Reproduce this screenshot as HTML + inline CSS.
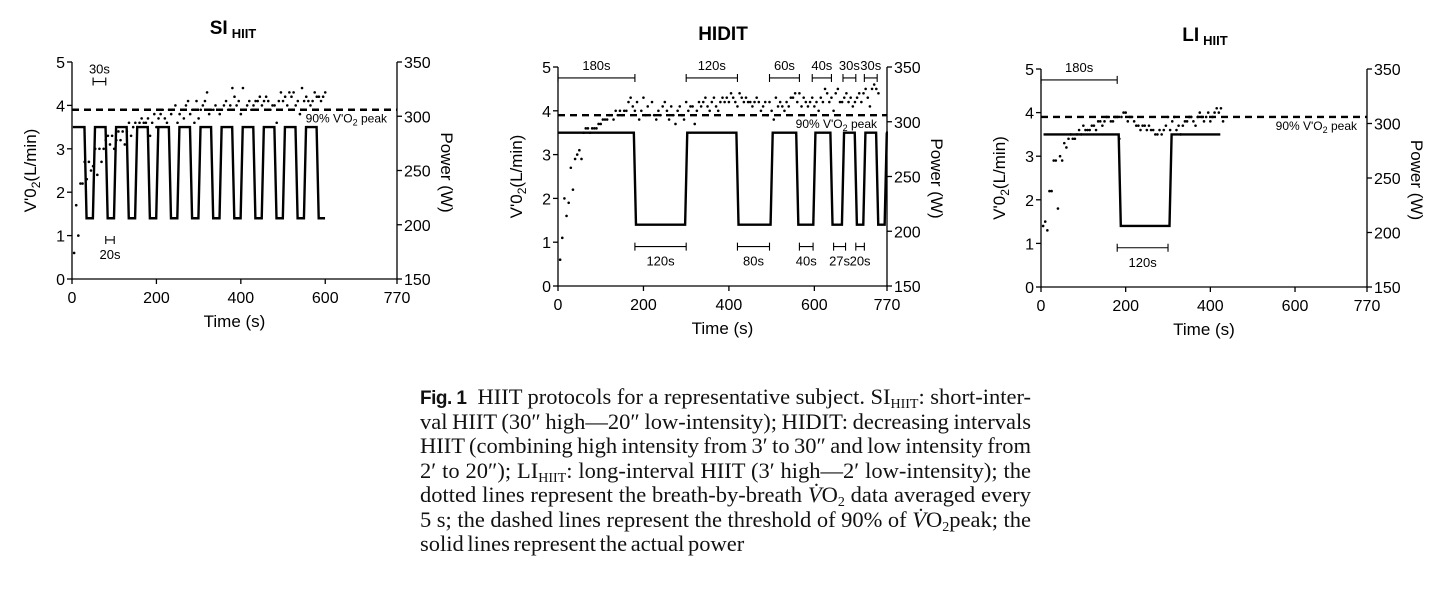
<!DOCTYPE html>
<html><head><meta charset="utf-8"><style>
body{margin:0;background:#fff;width:1456px;height:590px;overflow:hidden}
svg{display:block;font-family:"Liberation Sans",sans-serif}
#cap{position:absolute;left:420px;top:385px;width:611px;font-family:"Liberation Serif",serif;font-size:22.5px;line-height:24.5px;color:#111;word-spacing:-2px}
#cap div{text-align:justify;text-align-last:justify;white-space:nowrap;height:24.5px}
#cap div.last{text-align-last:left}
#cap b{font-family:"Liberation Sans",sans-serif;font-size:19px;letter-spacing:-0.5px}
#cap sub{font-size:14px;line-height:0;vertical-align:-4px}
</style></head><body>
<svg id="fig" width="1456" height="590"></svg>
<div id="cap">
<div><b>Fig. 1</b>&nbsp; HIIT protocols for a representative subject. SI<sub>HIIT</sub>: short-inter-</div>
<div>val HIIT (30″ high—20″ low-intensity); HIDIT: decreasing intervals</div>
<div>HIIT (combining high intensity from 3′ to 30″ and low intensity from</div>
<div>2′ to 20″); LI<sub>HIIT</sub>: long-interval HIIT (3′ high—2′ low-intensity); the</div>
<div>dotted lines represent the breath-by-breath <i>V̇</i>O<sub>2</sub> data averaged every</div>
<div>5 s; the dashed lines represent the threshold of 90% of <i>V̇</i>O<sub>2</sub>peak; the</div>
<div class="last">solid lines represent the actual power</div>
</div>
<script>
const xTicks=[0,200,400,600,770];
const yTicks=[0,1,2,3,4,5];
const pTicks=[150,200,250,300,350];
const threshold=3.9;
const highW=290, lowW=206;
// interval durations: alternating high, low
const siIntervals=[30,20,30,20,30,20,30,20,30,20,30,20,30,20,30,20,30,20,30,20,30,20,30,20];
const hiditIntervals=[180,120,120,80,60,40,40,27,30,20,30,20,3];
const liIntervals=[180,120,120];
// VO2 every 5 s
const siVO2=[0.6,1.7,1.0,2.2,2.2,2.7,2.3,2.7,2.5,2.6,3.0,2.4,3.0,2.7,3.0,3.2,3.3,3.1,3.3,3.0,3.2,3.4,3.2,3.4,3.1,3.4,3.6,3.3,3.5,3.6,3.5,3.6,3.7,3.6,3.6,3.7,3.3,3.6,3.8,3.5,3.7,3.8,3.9,3.7,3.6,3.9,3.8,3.9,4.0,3.6,3.8,3.9,3.7,4.0,4.1,3.8,3.9,3.6,4.1,3.7,3.9,4.0,4.1,4.3,3.8,3.9,3.9,4.0,3.9,3.8,3.9,4.0,4.1,3.9,4.0,4.4,4.2,4.0,4.1,3.8,4.4,3.9,4.0,4.1,3.9,4.0,4.1,4.1,4.2,4.0,4.1,4.2,4.1,3.9,4.0,4.0,3.6,4.1,4.3,4.1,4.2,4.0,4.3,4.2,4.3,4.0,4.1,3.8,4.4,4.1,4.2,4.1,4.0,4.1,4.3,4.2,4.2,4.1,4.2,4.3];
const hiditVO2=[0.6,1.1,2.0,1.6,1.9,2.7,2.2,2.9,3.0,3.1,2.9,3.5,3.6,3.6,3.5,3.6,3.6,3.6,3.7,3.7,3.8,3.8,3.8,3.9,3.9,3.8,4.0,3.9,4.0,3.9,4.0,4.0,4.2,4.3,4.1,4.0,4.2,3.8,4.0,4.3,3.9,4.1,3.9,4.2,3.9,3.8,4.0,3.9,4.1,4.2,4.0,3.8,4.1,3.9,3.7,4.0,4.1,3.9,3.8,4.2,4.0,4.1,4.1,3.7,4.0,4.2,4.1,4.2,4.3,4.1,4.0,4.2,4.3,4.1,4.0,4.2,4.3,4.2,4.3,4.2,4.4,4.3,4.2,4.1,4.4,4.3,4.2,4.3,4.2,4.2,4.1,4.2,4.3,4.2,4.0,4.1,4.2,3.9,4.2,4.0,3.8,4.3,4.1,4.2,4.1,4.0,4.2,4.1,4.3,4.3,4.4,4.2,4.4,4.1,4.3,4.2,4.1,4.2,4.3,4.1,4.2,4.0,4.3,4.2,4.5,4.4,4.2,4.3,4.0,4.4,4.5,4.2,4.2,4.3,4.4,4.2,4.3,4.1,4.2,4.3,4.4,4.2,4.4,4.5,4.3,4.1,4.5,4.6,4.5,4.4];
const liVO2=[1.4,1.5,1.3,2.2,2.2,2.9,2.9,1.8,3.0,2.9,3.3,3.2,3.4,3.5,3.4,3.4,3.5,3.6,3.5,3.7,3.6,3.6,3.6,3.7,3.7,3.6,3.8,3.8,3.7,3.8,3.9,3.9,3.8,3.8,3.9,3.9,3.4,3.9,4.0,4.0,3.8,3.9,3.9,3.8,3.7,3.7,3.6,3.7,3.7,3.6,3.7,3.6,3.6,3.5,3.5,3.6,3.5,3.6,3.7,3.9,3.6,3.8,3.9,3.6,3.7,3.5,3.7,3.8,3.8,3.9,3.9,3.8,3.7,3.9,4.0,3.9,3.8,3.9,4.0,3.8,3.9,4.0,4.1,4.0,4.1,3.8];
const panels=[
 {key:"si",title:"SI",sub:"HIIT",x0:72,x1:397,yT:62,yB:279,tx:233,ty:34,intervals:siIntervals,start:2,vo2:siVO2,
  brT:[[50,80,"30s"]],brB:[[80,100,"20s"]],brTy:4.55},
 {key:"hidit",title:"HIDIT",sub:"",x0:558,x1:887,yT:67,yB:286,tx:723,ty:40,intervals:hiditIntervals,start:0,vo2:hiditVO2,
  brT:[[0,180,"180s"],[300,420,"120s"],[495,565,"60s"],[595,640,"40s"],[667,697,"30s"],[717,747,"30s"]],
  brB:[[180,300,"120s"],[420,495,"80s"],[565,597,"40s"],[645,673,"27s"],[697,717,"20s"]],brTy:4.75},
 {key:"li",title:"LI",sub:"HIIT",x0:1041,x1:1367,yT:69,yB:287,tx:1205,ty:41,intervals:liIntervals,start:6,vo2:liVO2,
  brT:[[0,180,"180s"]],brB:[[180,300,"120s"]],brTy:4.75}
];
const NS="http://www.w3.org/2000/svg";
const svg=document.getElementById('fig');
function mk(tag,attrs,parent,txt){const e=document.createElementNS(NS,tag);for(const k in attrs)e.setAttribute(k,attrs[k]);if(txt!==undefined)e.textContent=txt;parent.appendChild(e);return e;}
panels.forEach(p=>{
 const g=mk('g',{},svg);
 
 
 const X=t=>p.x0+(t/770)*(p.x1-p.x0);
 const Y=v=>p.yB-(v/5)*(p.yB-p.yT);
 const YP=w=>p.yB-((w-150)/200)*(p.yB-p.yT);
 const tt=mk('text',{x:p.tx,y:p.ty,'text-anchor':'middle','font-size':19,'font-weight':'bold'},g);
 
 
 mk('tspan',{},tt,p.title);
 if(p.sub)mk('tspan',{'font-size':13,dy:4,dx:4},tt,p.sub);
 const ax=mk('path',{d:`M${p.x0},${p.yT}V${p.yB}H${p.x1}V${p.yT}`,fill:'none',stroke:'#000','stroke-width':1.3},g);
 
 
 yTicks.forEach(v=>{mk('line',{x1:p.x0-5,x2:p.x0,y1:Y(v),y2:Y(v),stroke:'#000','stroke-width':1.3},g);
  const t=mk('text',{x:p.x0-7,y:Y(v)+6,'text-anchor':'end','font-size':16},g,v);
  
  });
 pTicks.forEach(v=>{mk('line',{x1:p.x1,x2:p.x1+5,y1:YP(v),y2:YP(v),stroke:'#000','stroke-width':1.3},g);
  const t=mk('text',{x:p.x1+7,y:YP(v)+6,'font-size':16},g,v);
  
  });
 xTicks.forEach(v=>{mk('line',{x1:X(v),x2:X(v),y1:p.yB,y2:p.yB+5,stroke:'#000','stroke-width':1.3},g);
  const t=mk('text',{x:X(v),y:p.yB+24,'text-anchor':'middle','font-size':16},g,v);
  
  });
 const xt=mk('text',{x:(p.x0+p.x1)/2,y:p.yB+48,'text-anchor':'middle','font-size':17},g,'Time (s)');
 
 
 const cy=(p.yT+p.yB)/2;
 const yt=mk('text',{transform:`translate(${p.x0-36},${cy}) rotate(-90)`,'text-anchor':'middle','font-size':17},g);
 
 
 mk('tspan',{},yt,"V'0");mk('tspan',{'font-size':12,dy:4},yt,'2');mk('tspan',{dy:-4},yt,'(L/min)');
 const pt=mk('text',{transform:`translate(${p.x1+44},${cy+2}) rotate(90)`,'text-anchor':'middle','font-size':17},g,'Power (W)');
 
 
 const th=mk('line',{x1:p.x0,x2:p.x1,y1:Y(threshold),y2:Y(threshold),stroke:'#000','stroke-width':2.4,'stroke-dasharray':'7,5'},g);
 
 
 const tl=mk('text',{x:p.x1-10,y:Y(threshold)+13,'text-anchor':'end','font-size':12},g);
 
 
 mk('tspan',{},tl,"90% V'O");mk('tspan',{'font-size':9,dy:3},tl,'2');mk('tspan',{dy:-3},tl,' peak');
 let t=p.start,d=`M${X(t)},${YP(highW)}`;
 p.intervals.forEach((dur,i)=>{
  const hi=i%2===0,lv=hi?highW:lowW,nv=hi?lowW:highW;
  t+=dur;
  d+=`L${X(t-2.5)},${YP(lv)}`;
  if(i<p.intervals.length-1)d+=`L${X(t+2.5)},${YP(nv)}`;
 });
 const pw=mk('path',{d:d,fill:'none',stroke:'#000','stroke-width':2.4,'stroke-linejoin':'miter'},g);
 
 
 p.vo2.forEach((v,i)=>{const c=mk('circle',{cx:X(5+i*5),cy:Y(v),r:1.3,fill:'#000'},g);
  
  });
 const br=(a,b,lab,val,above)=>{const y=Y(val);
  const bg=mk('g',{},g);
  
  
  mk('path',{d:`M${X(a)},${y-4}V${y+4}M${X(a)},${y}H${X(b)}M${X(b)},${y-4}V${y+4}`,stroke:'#000','stroke-width':1.1,fill:'none'},bg);
  mk('text',{x:(X(a)+X(b))/2,y:above?y-8:y+19,'text-anchor':'middle','font-size':13},bg,lab);};
 p.brT.forEach(b=>br(b[0],b[1],b[2],p.brTy,true));
 p.brB.forEach(b=>br(b[0],b[1],b[2],0.9,false));
});
</script>
</body></html>
